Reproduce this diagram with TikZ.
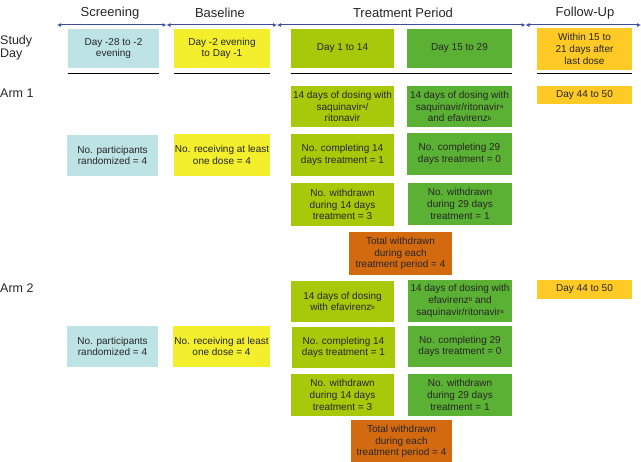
\documentclass[tikz,border=0pt]{standalone}
\usepackage{fontspec}
\setmainfont{Liberation Sans}
\usetikzlibrary{arrows.meta}
\definecolor{cblue}{HTML}{BDE3E5}
\definecolor{cyel}{HTML}{F3EF2C}
\definecolor{cyg}{HTML}{A8C80A}
\definecolor{cgreen}{HTML}{5BB133}
\definecolor{cgold}{HTML}{FFC926}
\definecolor{cbrown}{HTML}{D46A10}
\definecolor{carrow}{HTML}{3F4C9A}
\newcommand{\supx}[1]{\raisebox{0.35ex}{\fontsize{6}{6}\selectfont #1}}
\tikzset{
  box/.style={inner sep=1pt, align=center, text=black!85,
    font=\fontsize{10}{11.8}\selectfont},
  hdr/.style={font=\fontsize{13}{14}\selectfont, text=black!85},
  lbl/.style={font=\fontsize{12.5}{13.5}\selectfont, text=black!85, anchor=west, align=left, inner sep=0pt},
  per/.style={carrow, line width=1pt, {Latex[length=4pt,width=4pt]}-{Latex[length=4pt,width=4pt]}},
  rule/.style={line width=1.3pt, black}
}
\newcommand{\bx}[7]{% name, x1, y1, x2, y2, color, text
  \node[box, fill=#6, minimum width={#4-#2}, minimum height={#5-#3}] (#1) at ({(#2+#4)/2},{(#3+#5)/2}) {#7};}
\begin{document}
\begin{tikzpicture}[x=1pt,y=-1pt]
\useasboundingbox (0,0) rectangle (641,462);
% period arrows
\coordinate (p0) at (57,25);
\coordinate (p1) at (166.5,25);
\coordinate (p2) at (277,25);
\coordinate (p3) at (525.5,25);
\coordinate (p4) at (641,25);
\draw[per] (p0) -- (p1);
\draw[per] (p1) -- (p2);
\draw[per] (p2) -- (p3);
\draw[per] (p3) -- (p4);
\node[hdr] (h1) at (110,13) {Screening};
\node[hdr] (h2) at (220,13) {Baseline};
\node[hdr] (h3) at (403,13) {Treatment Period};
\node[hdr] (h4) at (585,13) {Follow-Up};
% left labels
\node[lbl] (sd) at (0,48) {Study\\Day};
\node[lbl] (arm1) at (0,93) {Arm 1};
\node[lbl] (arm2) at (0,288) {Arm 2};
% study day row
\bx{s0}{68}{29}{159}{68}{cblue}{Day -28 to -2\\evening}
\bx{b0}{174}{29}{270}{68}{cyel}{Day -2 evening\\to Day -1}
\bx{t10}{291}{29}{394}{68}{cyg}{Day 1 to 14}
\bx{t20}{407}{29}{512}{68}{cgreen}{Day 15 to 29}
\bx{f0}{537}{28}{632}{70}{cgold}{Within 15 to\\21 days after\\last dose}
\draw[rule] (s0.south west) ++(0,5) coordinate (r1a) -- (s0.south east |- r1a);
\draw[rule] (b0.south west) ++(0,5) coordinate (r2a) -- (b0.south east |- r2a);
\draw[rule] (t10.south west) ++(0,5) coordinate (r3a) -- (t20.south east |- r3a);
\draw[rule] (f0.south west) ++(0,3) coordinate (r4a) -- (f0.south east |- r4a);
% Arm 1
\bx{a1t1}{291}{86}{394}{127}{cyg}{14 days of dosing with\\saquinavir\supx{a}/\\ritonavir}
\bx{a1t2}{407}{86}{512}{127}{cgreen}{14 days of dosing with\\saquinavir/ritonavir\supx{a}\\and efavirenz\supx{b}}
\bx{a1f}{537}{86}{632}{104}{cgold}{Day 44 to 50}
\bx{a1s}{67}{135}{158}{176}{cblue}{No. participants\\randomized = 4}
\bx{a1b}{174}{134}{270}{176}{cyel}{No. receiving at least\\one dose = 4}
\bx{a1t1b}{291}{134}{394}{176}{cyg}{No. completing 14\\days treatment = 1}
\bx{a1t2b}{407}{133}{512}{175}{cgreen}{No. completing 29\\days treatment = 0}
\bx{a1t1c}{291}{183}{394}{226}{cyg}{No. withdrawn\\during 14 days\\treatment = 3}
\bx{a1t2c}{408}{183}{512}{225}{cgreen}{No. withdrawn\\during 29 days\\treatment = 1}
\bx{a1tot}{349}{232}{452}{275}{cbrown}{Total withdrawn\\during each\\treatment period = 4}
% Arm 2
\bx{a2t1}{291}{281}{394}{322}{cyg}{14 days of dosing\\with efavirenz\supx{b}}
\bx{a2t2}{408}{280}{512}{322}{cgreen}{14 days of dosing with\\efavirenz\supx{b} and\\saquinavir/ritonavir\supx{a}}
\bx{a2f}{537}{280}{632}{299}{cgold}{Day 44 to 50}
\bx{a2s}{67}{326}{158}{367}{cblue}{No. participants\\randomized = 4}
\bx{a2b}{173}{326}{270}{367}{cyel}{No. receiving at least\\one dose = 4}
\bx{a2t1b}{292}{327}{395}{368}{cyg}{No. completing 14\\days treatment = 1}
\bx{a2t2b}{408}{326}{512}{367}{cgreen}{No. completing 29\\days treatment = 0}
\bx{a2t1c}{291}{374}{394}{416}{cyg}{No. withdrawn\\during 14 days\\treatment = 3}
\bx{a2t2c}{408}{374}{512}{416}{cgreen}{No. withdrawn\\during 29 days\\treatment = 1}
\bx{a2tot}{351}{420}{452}{463}{cbrown}{Total withdrawn\\during each\\treatment period = 4}
\end{tikzpicture}
\end{document}
